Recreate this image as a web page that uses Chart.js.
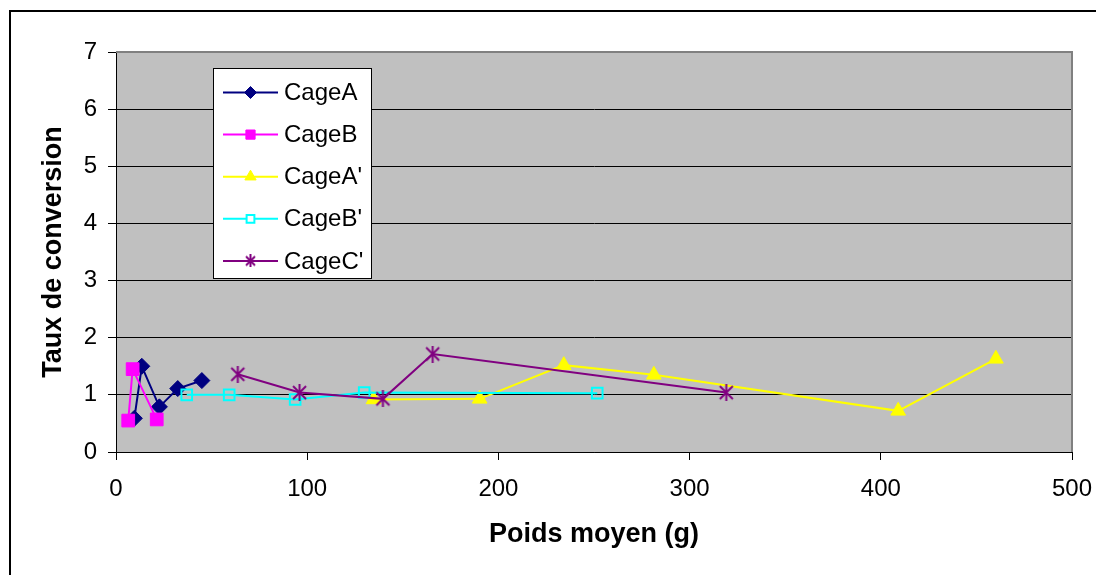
<!DOCTYPE html>
<html>
<head>
<meta charset="utf-8">
<script src="https://cdn.jsdelivr.net/npm/chart.js@4.4.0/dist/chart.umd.min.js"></script>
<style>
    html, body { margin: 0; padding: 0; background: #fff; }
    #wrap { width: 1096px; height: 575px; }
</style>
</head>
<body>
<div id="wrap"><canvas id="scatter-chart"></canvas></div>
<script>
// poids moyen (g) / taux de conversion, one pair of arrays per cage
const cageAPoids = [9.6, 13.5, 22.7, 32.3, 44.9];
const cageATaux = [0.59, 1.5, 0.79, 1.11, 1.25];

const cageBPoids = [6.4, 8.7, 21.3];
const cageBTaux = [0.55, 1.45, 0.57];

const cageA2Poids = [134.7, 190.2, 234.2, 281.3, 409.1, 460.2];
const cageA2Taux = [0.92, 0.93, 1.52, 1.35, 0.72, 1.63];

const cageB2Poids = [37.0, 59.2, 93.7, 129.8, 251.7];
const cageB2Taux = [1.0, 1.0, 0.92, 1.04, 1.03];

const cageC2Poids = [63.7, 96.0, 139.6, 165.6, 319.2];
const cageC2Taux = [1.36, 1.04, 0.93, 1.715, 1.04];

const seriesNames = ["CageA", "CageB", "CageA'", "CageB'", "CageC'"];

const xMin = 0, xMax = 500, xStep = 100;
const yMin = 0, yMax = 7, yStep = 1;

const FONT = "'Liberation Sans', Arial, sans-serif";
Chart.defaults.font.family = FONT;
Chart.defaults.color = '#000';

function toPoints(xs, ys) {
    return xs.map((x, i) => ({x: x, y: ys[i]}));
}

// x + vertical bar marker
function asterisk(size, color) {
    const c = document.createElement('canvas');
    c.width = c.height = size;
    const g = c.getContext('2d');
    const m = size / 2;
    const d = m - 2;
    g.strokeStyle = color;
    g.lineWidth = 2;
    g.beginPath();
    g.moveTo(m - d, m - d); g.lineTo(m + d, m + d);
    g.moveTo(m + d, m - d); g.lineTo(m - d, m + d);
    g.moveTo(m, 0); g.lineTo(m, size);
    g.stroke();
    return c;
}

const styles = [
    {color: '#000080', fill: '#000080', point: 'rectRot', r: 8, lr: 6},
    {color: '#FF00FF', fill: '#FF00FF', point: 'rect', r: 9, lr: 6.5},
    {color: '#FFFF00', fill: '#FFFF00', point: 'triangle', r: 8.5, lr: 6.5},
    {color: '#00FFFF', fill: 'rgba(0,0,0,0)', point: 'rect', r: 7.5, lr: 5.5, bw: 2},
    {color: '#800080', fill: '#800080', point: asterisk(17, '#800080'), legendPoint: asterisk(13, '#800080'), r: 8, lr: 6}
];

const series = [
    toPoints(cageAPoids, cageATaux),
    toPoints(cageBPoids, cageBTaux),
    toPoints(cageA2Poids, cageA2Taux),
    toPoints(cageB2Poids, cageB2Taux),
    toPoints(cageC2Poids, cageC2Taux)
];

const datasets = series.map((pts, i) => ({
    label: seriesNames[i],
    data: pts,
    showLine: true,
    borderColor: styles[i].color,
    backgroundColor: styles[i].fill,
    borderWidth: 2,
    pointStyle: styles[i].point,
    pointRadius: styles[i].r,
    pointHoverRadius: styles[i].r,
    pointBorderColor: styles[i].color,
    pointBackgroundColor: styles[i].fill,
    pointBorderWidth: styles[i].bw || 1,
    order: series.length - i
}));

// white page, outer frame and grey plot area
const frame = {
    id: 'frame',
    beforeDraw(chart) {
        const ctx = chart.ctx;
        const a = chart.chartArea;
        ctx.save();
        ctx.fillStyle = '#fff';
        ctx.fillRect(0, 0, chart.width, chart.height);
        ctx.strokeStyle = '#000';
        ctx.lineWidth = 2;
        ctx.strokeRect(10, 11, chart.width + 20, chart.height + 20);
        ctx.fillStyle = '#C0C0C0';
        ctx.fillRect(a.left, a.top, a.right - a.left, a.bottom - a.top);
        ctx.restore();
    },
    afterDraw(chart) {
        const ctx = chart.ctx;
        const a = chart.chartArea;
        ctx.save();
        ctx.strokeStyle = '#808080';
        ctx.lineWidth = 2;
        ctx.beginPath();
        ctx.moveTo(a.left, a.top);
        ctx.lineTo(a.right, a.top);
        ctx.lineTo(a.right, a.bottom);
        ctx.stroke();
        ctx.restore();
    }
};

// boxed legend sitting inside the plot area
const boxLegend = {
    id: 'boxLegend',
    afterDraw(chart) {
        const ctx = chart.ctx;
        const box = {x: 213.5, y: 68.5, w: 158, h: 210};
        ctx.save();
        ctx.fillStyle = '#fff';
        ctx.fillRect(box.x, box.y, box.w, box.h);
        ctx.strokeStyle = '#000';
        ctx.lineWidth = 1;
        ctx.strokeRect(box.x, box.y, box.w, box.h);
        chart.data.datasets.forEach((ds, i) => {
            const st = styles[i];
            const y = 92.5 + i * 42.1;
            ctx.strokeStyle = ds.borderColor;
            ctx.lineWidth = 2;
            ctx.beginPath();
            ctx.moveTo(223, y);
            ctx.lineTo(278, y);
            ctx.stroke();
            ctx.fillStyle = st.fill === 'rgba(0,0,0,0)' ? '#fff' : st.fill;
            ctx.strokeStyle = st.color;
            ctx.lineWidth = st.bw || 1;
            Chart.helpers.drawPoint(ctx, {
                pointStyle: st.legendPoint || st.point,
                radius: st.lr,
                rotation: 0,
                borderWidth: st.bw || 1
            }, 250.5, y);
            ctx.fillStyle = '#000';
            ctx.font = '24px ' + FONT;
            ctx.textBaseline = 'middle';
            ctx.textAlign = 'left';
            ctx.fillText(ds.label, 284, y + 1);
        });
        ctx.restore();
    }
};

new Chart(document.getElementById('scatter-chart'), {
    type: 'scatter',
    data: {datasets: datasets},
    plugins: [frame, boxLegend],
    options: {
        responsive: true,
        maintainAspectRatio: false,
        animation: false,
        layout: {padding: {top: 52, right: 24, left: 0, bottom: 0}},
        plugins: {
            legend: {display: false},
            tooltip: {enabled: false}
        },
        scales: {
            x: {
                type: 'linear',
                min: xMin,
                max: xMax,
                ticks: {stepSize: xStep, font: {size: 24}, color: '#000', padding: 15},
                grid: {drawOnChartArea: false, tickLength: 8, tickColor: '#000', tickWidth: 1},
                border: {color: '#000', width: 1},
                title: {
                    display: true,
                    text: 'Poids moyen (g)',
                    color: '#000',
                    font: {size: 27, weight: 'bold'},
                    padding: {top: 0, bottom: 24}
                },
                afterFit(scale) {
                    scale.height = 123;
                    scale.paddingLeft = 0;
                    scale.paddingRight = 0;
                }
            },
            y: {
                min: yMin,
                max: yMax,
                ticks: {stepSize: yStep, font: {size: 24}, color: '#000', padding: 11},
                grid: {color: '#000', lineWidth: 1, tickLength: 8, tickColor: '#000'},
                border: {color: '#000', width: 1},
                title: {
                    display: true,
                    text: 'Taux de conversion',
                    color: '#000',
                    font: {size: 27, weight: 'bold'},
                    padding: {top: 37, bottom: 0}
                },
                afterFit(scale) {
                    scale.width = 116;
                    scale.paddingTop = 0;
                    scale.paddingBottom = 0;
                }
            }
        }
    }
});
</script>
</body>
</html>
